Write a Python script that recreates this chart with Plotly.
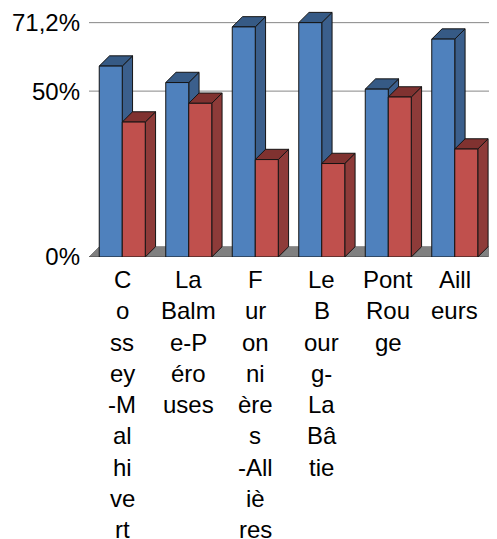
"""3D-look clustered column chart, drawn as filled polygons on plain axes."""

import plotly.graph_objects as go

# Category labels, wrapped the way the chart wraps them
label_lines = [
    ["C", "o", "ss", "ey", "-M", "al", "hi", "ve", "rt"],
    ["La", "Balm", "e-P", "éro", "uses"],
    ["F", "ur", "on", "ni", "ère", "s", "-All", "iè", "res"],
    ["Le", "B", "our", "g-", "La", "Bâ", "tie"],
    ["Pont", "Rou", "ge"],
    ["Aill", "eurs"],
]
blue_values = [58.0, 53.0, 69.9, 71.2, 51.0, 66.2]
red_values = [41.0, 46.7, 29.6, 28.4, 48.6, 32.8]

tick_positions = [0, 50.4, 71.2]
tick_labels = ["0%", "50%", "71,2%"]
grid_positions = [50.4, 71.2]

# Depth of the fake 3D, in axis units
BAR_W = 0.346
DX = 0.155
DY = 3.12
X_MIN, X_MAX = -0.5, 5.635
Y_MAX = 75.65
FONT = "Liberation Sans, Arial, sans-serif"
EDGE = "#141414"


def polygons(rects):
    """Join closed polygons into one x/y pair, separated by None."""
    xs, ys = [], []
    for pts in rects:
        xs += [p[0] for p in pts] + [pts[0][0], None]
        ys += [p[1] for p in pts] + [pts[0][1], None]
    return xs, ys


def add_faces(fig, xs, ys, fill, line=EDGE, width=1):
    fig.add_trace(
        go.Scatter(
            x=xs,
            y=ys,
            mode="lines",
            fill="toself",
            fillcolor=fill,
            line=dict(color=line, width=width),
            hoverinfo="skip",
            showlegend=False,
        )
    )


def add_series(fig, values, offset, front, side, top):
    lefts = [i + offset for i in range(len(values))]
    side_faces = [
        [(x + BAR_W, 0), (x + BAR_W + DX, DY), (x + BAR_W + DX, v + DY), (x + BAR_W, v)]
        for x, v in zip(lefts, values)
    ]
    top_faces = [
        [(x, v), (x + DX, v + DY), (x + BAR_W + DX, v + DY), (x + BAR_W, v)]
        for x, v in zip(lefts, values)
    ]
    front_faces = [
        [(x, 0), (x, v), (x + BAR_W, v), (x + BAR_W, 0)]
        for x, v in zip(lefts, values)
    ]
    add_faces(fig, *polygons(side_faces), side)
    add_faces(fig, *polygons(top_faces), top)
    add_faces(fig, *polygons(front_faces), front)


fig = go.Figure()

# Gridlines sit on the back wall
for g in grid_positions:
    fig.add_trace(
        go.Scatter(
            x=[X_MIN, X_MAX],
            y=[g, g],
            mode="lines",
            line=dict(color="#868686", width=1),
            hoverinfo="skip",
            showlegend=False,
        )
    )

# Floor
floor = [[(X_MIN, 0), (X_MIN + DX, DY), (X_MAX + 0.01, DY), (5.5, 0)]]
add_faces(fig, *polygons(floor), "#808080", line="#808080")
fig.add_trace(
    go.Scatter(
        x=[X_MIN, 5.5],
        y=[0, 0],
        mode="lines",
        line=dict(color="#5a5a5a", width=1.5),
        hoverinfo="skip",
        showlegend=False,
    )
)

add_series(fig, blue_values, -BAR_W, "#4F81BD", "#3B5F8C", "#365A85")
add_series(fig, red_values, 0, "#C0504D", "#8E3B39", "#803230")

# Wrapped category labels, one annotation per line
for i, lines in enumerate(label_lines):
    for n, text in enumerate(lines):
        fig.add_annotation(
            x=i,
            y=0,
            text=text,
            showarrow=False,
            xanchor="center",
            yanchor="middle",
            yshift=-(22.5 + 31.25 * n),
            font=dict(family=FONT, size=24, color="#000000"),
        )

# The page keeps an 8px body margin, so the figure is sized to fill what is left
fig.update_layout(
    width=489,
    height=531,
    margin=dict(l=81, r=0, t=0, b=281.5),
    paper_bgcolor="white",
    plot_bgcolor="white",
    showlegend=False,
    xaxis=dict(range=[X_MIN, X_MAX], visible=False),
    yaxis=dict(
        range=[0, Y_MAX],
        tickmode="array",
        tickvals=tick_positions,
        ticktext=tick_labels,
        showgrid=False,
        zeroline=False,
        showline=False,
        ticks="",
        ticklabelstandoff=8,
        tickfont=dict(family=FONT, size=24, color="#000000"),
    ),
)

fig.write_html("out.html")
